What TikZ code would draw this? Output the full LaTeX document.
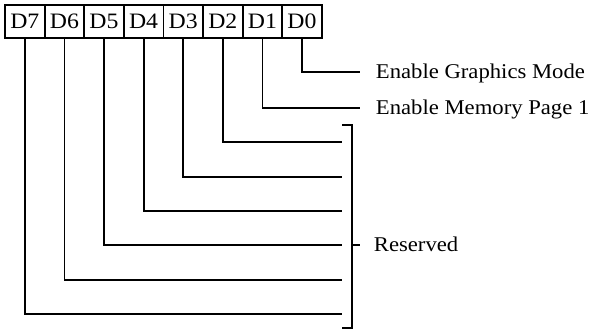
\documentclass[tikz,border=0pt]{standalone}
\usepackage{fontspec}
\setmainfont[FakeStretch=1.08]{Liberation Serif}
\begin{document}
\begin{tikzpicture}[x=1pt,y=-1pt,line width=1.8pt,
  bitbox/.style={draw,minimum width=39.6pt,minimum height=33pt,inner sep=0pt,font=\fontsize{22}{22}\selectfont},
  lbl/.style={anchor=base west,inner sep=0pt,font=\fontsize{21}{21}\selectfont}]
\useasboundingbox (0,0) rectangle (604,330);
\foreach \k [evaluate=\k as \i using {7-\k}] in {7,6,5,4,3,2,1,0}{
  \node[bitbox] (b\k) at ({24.8+39.6*\i},21.5) {D\k};
}
\node[lbl] (l0) at (375,78) {Enable Graphics Mode};
\node[lbl] (l1) at (375,114) {Enable Memory Page 1};
\node[lbl] (lr) at (373,251) {Reserved};
\coordinate (e0) at (360,72);
\coordinate (e1) at (360,108);
\draw (b0.south) |- (e0);
\draw (b1.south) |- (e1);
\foreach \k/\y in {2/142,3/177,4/211,5/245,6/280,7/314}{
  \coordinate (e\k) at (342,\y);
  \draw (b\k.south) |- (e\k);
}
\coordinate (bt) at (352,125);
\coordinate (bb) at (352,328);
\coordinate (bm) at (352,245);
\draw (342,125) -- (bt) -- (bb) -- (342,328);
\draw (bm) -- (360,245);
\end{tikzpicture}
\end{document}
